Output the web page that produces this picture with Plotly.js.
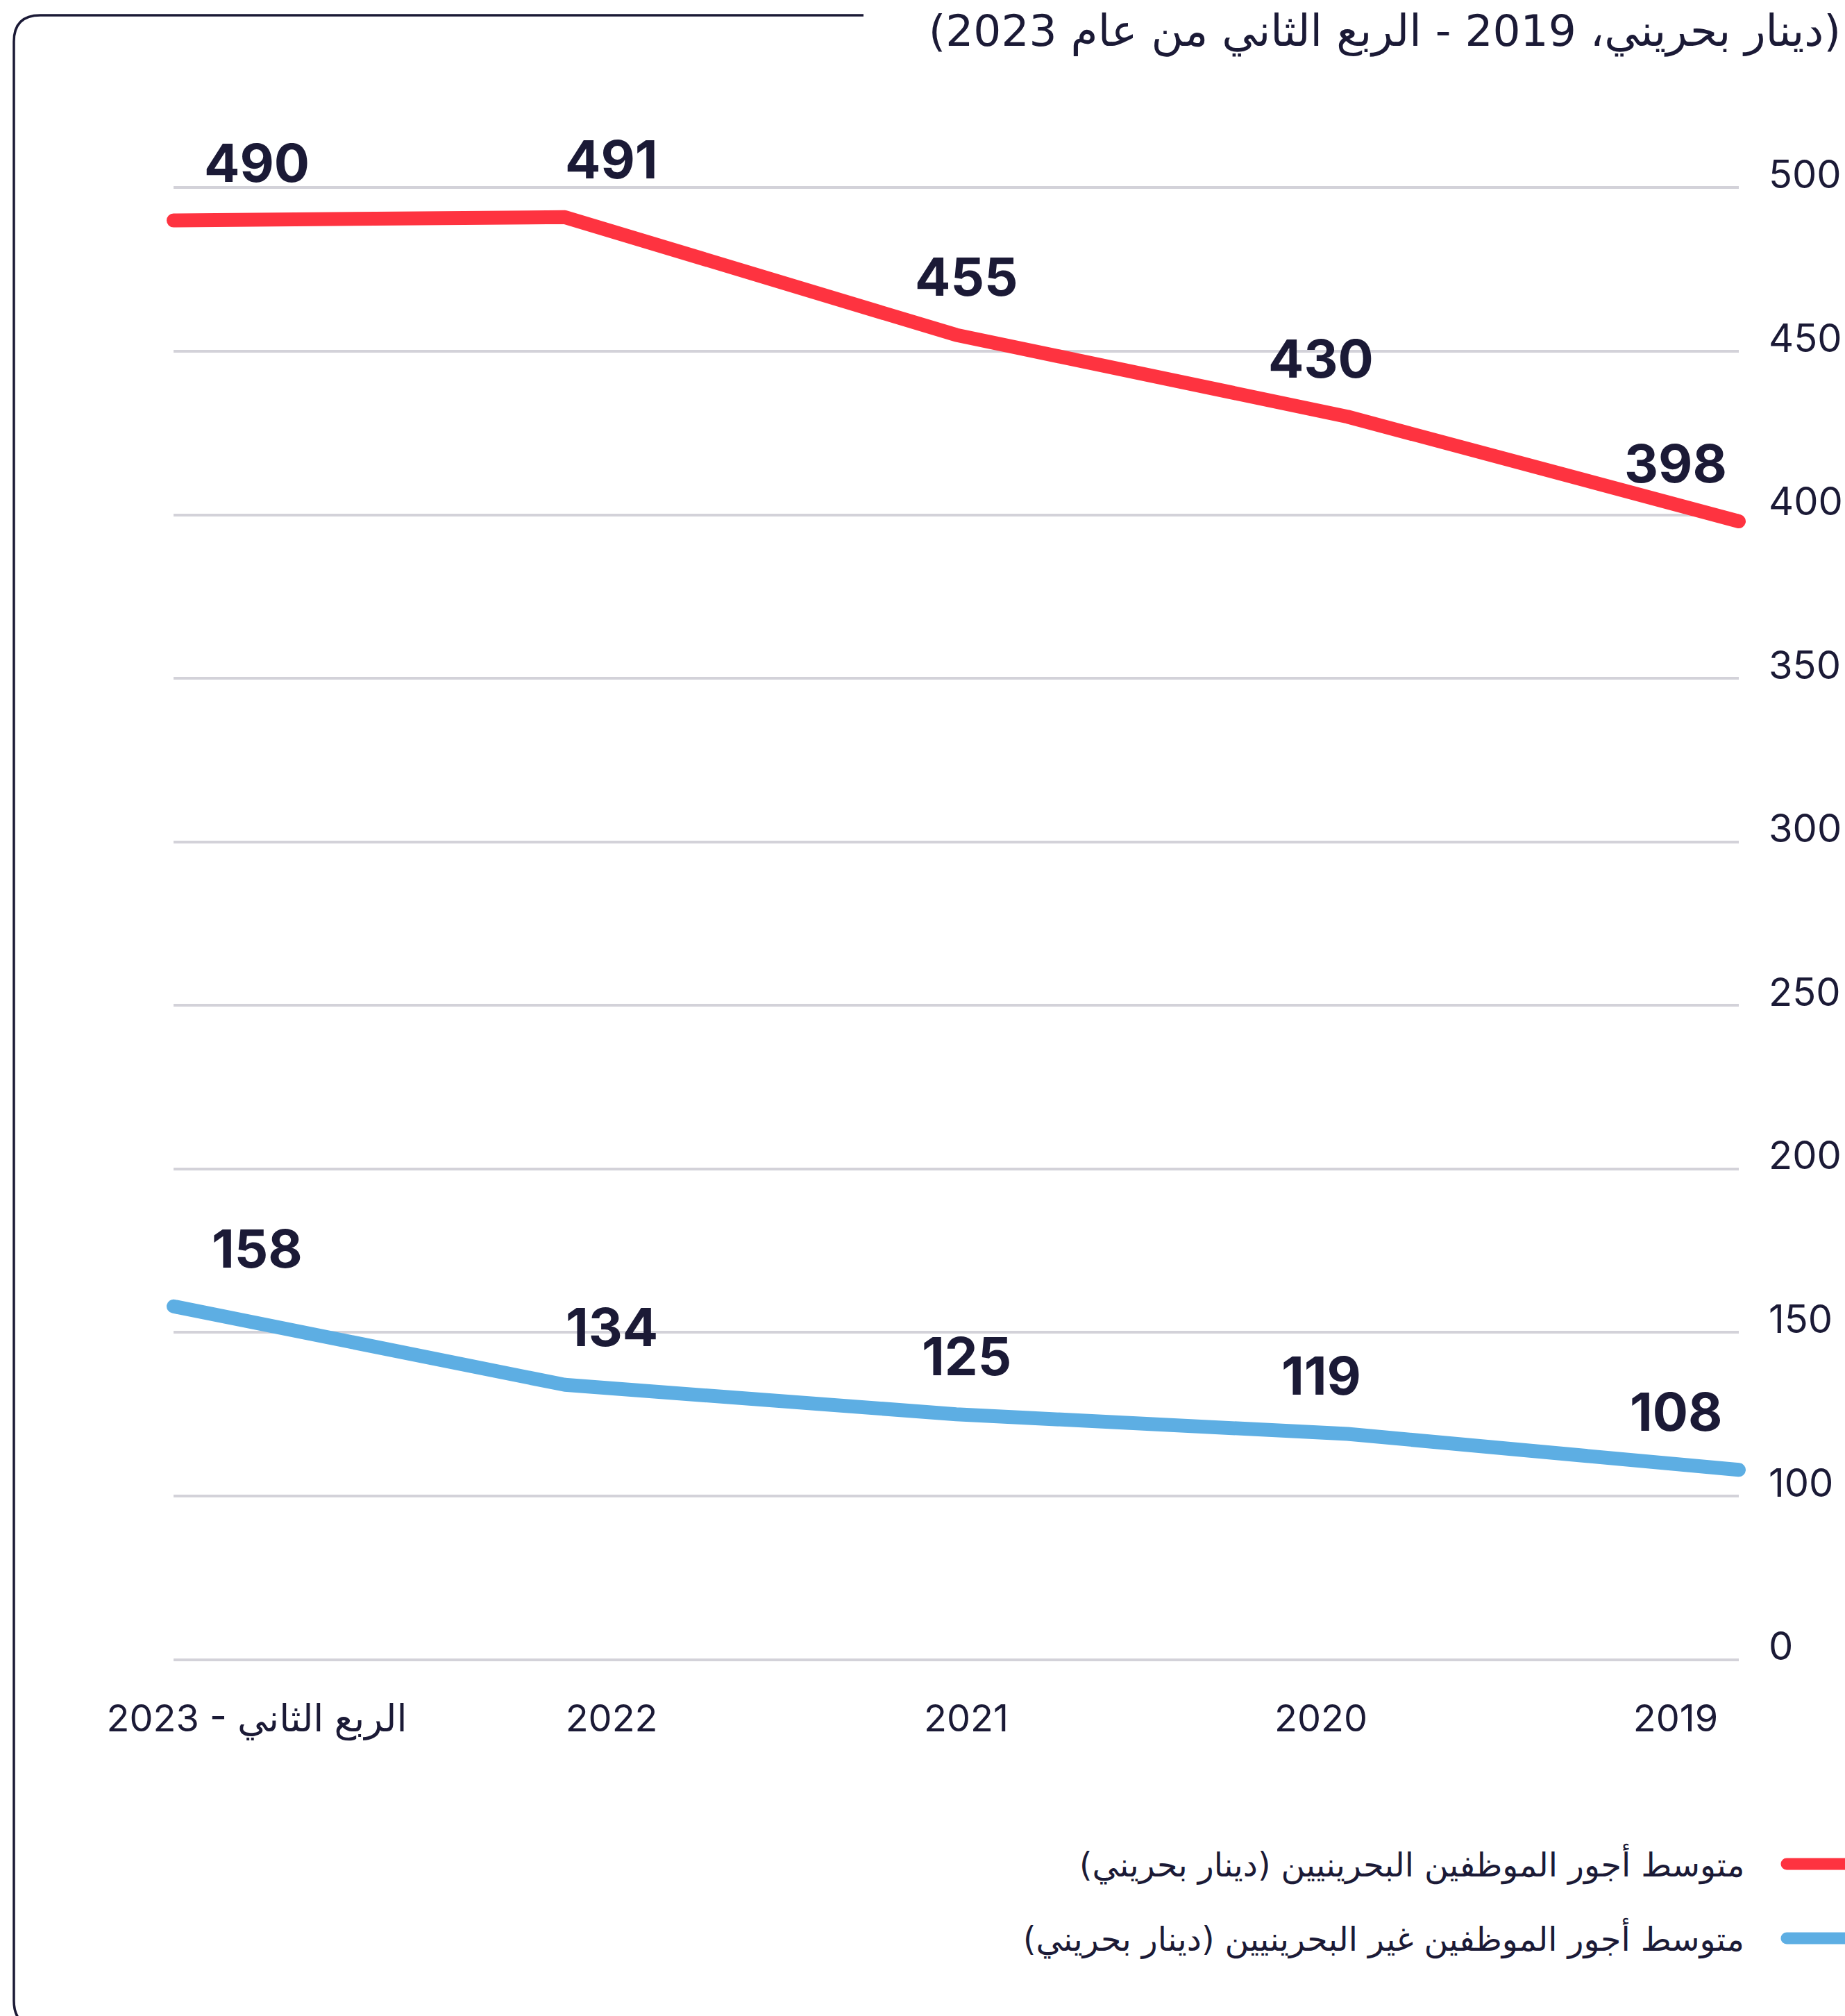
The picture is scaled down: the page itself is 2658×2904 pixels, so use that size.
<!DOCTYPE html>
<html>
<head>
<meta charset="utf-8">
<script src="https://cdn.plot.ly/plotly-3.0.1.min.js"></script>
<style>
  html, body { margin: 0; padding: 0; background: #ffffff; }
  #chart { width: 2658px; height: 2904px; }
  .js-line { stroke-linecap: round !important; stroke-linejoin: round !important; }
  .shapelayer path.legend-swatch { stroke-linecap: round !important; }
</style>
</head>
<body>
<div id="chart"></div>
<script>
// ---- data ----
const categories = ['2019', '2020', '2021', '2022', '2023 - الربع الثاني'];
const bahrainiWages = [398, 430, 455, 491, 490];
const nonBahrainiWages = [108, 119, 125, 134, 158];
const seriesNames = [
  'متوسط أجور الموظفين البحرينيين (دينار بحريني)',
  'متوسط أجور الموظفين غير البحرينيين (دينار بحريني)'
];
const yTickVals = [50, 100, 150, 200, 250, 300, 350, 400, 450, 500];
const yTickText = ['0', '100', '150', '200', '250', '300', '350', '400', '450', '500'];
const titleText = '(دينار بحريني، 2019 - الربع الثاني من عام 2023)';

// ---- style ----
const W = 2658, H = 2904;
const L = 250, R = 2505, T = 269, B = 2392;
const px2x = px => (px - L) / (R - L);
const py2y = py => (B - py) / (B - T);
const RED = '#fe3340', BLUE = '#5daee3', INK = '#1b1a36', GRID = '#d3d2d9';
const NUM_FONT = 'Inter, DejaVu Sans, sans-serif';
const AR = s => '\u202B' + s + '\u202C';

const traces = [
  { x: categories, y: bahrainiWages, name: seriesNames[0], type: 'scatter', mode: 'lines',
    line: { color: RED, width: 20 }, xaxis: 'x', yaxis: 'y', hoverinfo: 'skip' },
  { x: categories, y: nonBahrainiWages, name: seriesNames[1], type: 'scatter', mode: 'lines',
    line: { color: BLUE, width: 20 }, xaxis: 'x', yaxis: 'y', hoverinfo: 'skip' },
  // invisible helper registering categories on the label axis
  { x: categories, y: bahrainiWages, type: 'scatter', mode: 'markers',
    marker: { opacity: 0, size: 1 }, xaxis: 'x2', yaxis: 'y', hoverinfo: 'skip' }
];

const annotations = [];
[bahrainiWages, nonBahrainiWages].forEach(vals => {
  vals.forEach((v, i) => {
    annotations.push({
      xref: 'x2', yref: 'y', x: i, y: v, yanchor: 'bottom', xanchor: 'center',
      yshift: 36, showarrow: false, text: String(v),
      font: { family: NUM_FONT, size: 76, color: INK, weight: 700 }
    });
  });
});
const legendY = [2685, 2792];
seriesNames.forEach((n, i) => {
  annotations.push({
    xref: 'paper', yref: 'paper', x: px2x(2515), y: py2y(legendY[i]),
    xanchor: 'right', yanchor: 'middle', showarrow: false, text: AR(n),
    font: { family: 'DejaVu Sans, sans-serif', size: 47.5, color: INK }
  });
});

const shapes = [
  // rounded frame (left + top edges)
  { type: 'path', xref: 'paper', yref: 'paper', layer: 'below',
    path: `M ${px2x(1244)} ${py2y(22)} L ${px2x(58)} ${py2y(22)} Q ${px2x(20)} ${py2y(22)} ${px2x(20)} ${py2y(60)} ` +
          `L ${px2x(20)} ${py2y(2882)} Q ${px2x(20)} ${py2y(2920)} ${px2x(58)} ${py2y(2920)}`,
    line: { color: INK, width: 3.5 } },
  { type: 'line', xref: 'paper', yref: 'paper', x0: px2x(2574), x1: px2x(2740),
    y0: py2y(legendY[0]), y1: py2y(legendY[0]), line: { color: RED, width: 17 } },
  { type: 'line', xref: 'paper', yref: 'paper', x0: px2x(2574), x1: px2x(2740),
    y0: py2y(legendY[1]), y1: py2y(legendY[1]), line: { color: BLUE, width: 17 } }
];

const layout = {
  width: W, height: H,
  margin: { l: L, r: W - R, t: T, b: H - B, pad: 0 },
  paper_bgcolor: '#ffffff', plot_bgcolor: '#ffffff',
  showlegend: false,
  title: { text: AR(titleText), xref: 'container', yref: 'container',
           x: 2652 / W, xanchor: 'right', y: 1 - 44 / H, yanchor: 'middle',
           font: { family: 'DejaVu Sans, sans-serif', size: 63, color: INK } },
  xaxis: { type: 'category', categoryorder: 'array', categoryarray: categories,
           range: [4, 0], showticklabels: false, showgrid: false, zeroline: false,
           showline: false, ticks: '', fixedrange: true },
  xaxis2: { type: 'category', categoryorder: 'array', categoryarray: categories,
            overlaying: 'x', anchor: 'y', side: 'bottom',
            range: [4.235, -0.178], showgrid: false, zeroline: false, showline: false,
            ticks: '', ticklabelstandoff: 47, fixedrange: true,
            tickfont: { family: NUM_FONT, size: 54, color: INK } },
  yaxis: { side: 'right', range: [49.7, 500.3], tickmode: 'array', tickvals: yTickVals,
           ticktext: yTickText, showgrid: true, gridcolor: GRID, gridwidth: 4,
           zeroline: false, showline: false, ticks: '', ticklabelstandoff: 42,
           ticklabelshift: -19, fixedrange: true,
           tickfont: { family: NUM_FONT, size: 56, color: INK } },
  annotations: annotations,
  shapes: shapes
};

Plotly.newPlot('chart', traces, layout, { staticPlot: true, displayModeBar: false }).then(gd => {
  gd.querySelectorAll('.cartesianlayer [clip-path]').forEach(el => el.removeAttribute('clip-path'));
  gd.querySelectorAll('.shapelayer path').forEach((p, i) => { if (i > 0) p.classList.add('legend-swatch'); });
});
</script>
</body>
</html>
